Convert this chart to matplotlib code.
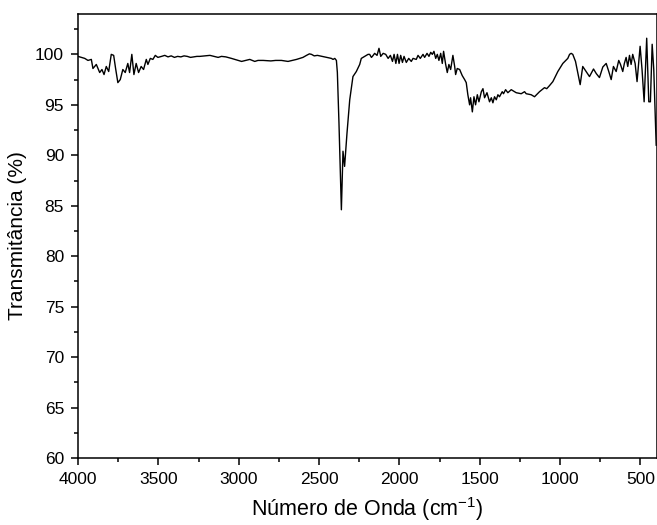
import numpy as np
import matplotlib
matplotlib.use("Agg")
import matplotlib.pyplot as plt
from matplotlib.ticker import MultipleLocator

plt.rcParams["font.family"] = ["Liberation Sans", "DejaVu Sans"]
plt.rcParams["mathtext.default"] = "regular"

# ── FTIR spectrum (wavenumber cm-1, transmittance %) ──
wavenumber = [
    4000, 3958, 3938, 3917, 3907, 3886, 3865, 3851, 3838, 3824, 3809, 3793,
    3778, 3766, 3752, 3737, 3721, 3706, 3690, 3679, 3665, 3652, 3638, 3623,
    3607, 3592, 3575, 3565, 3550, 3534, 3519, 3503, 3480, 3460, 3440, 3420,
    3400, 3380, 3360, 3340, 3320, 3300, 3280, 3260, 3242, 3179, 3128, 3107,
    3080, 3045, 2982, 2931, 2900, 2880, 2848, 2800, 2770, 2734, 2693, 2640,
    2600, 2578, 2560, 2547, 2530, 2510, 2496, 2454, 2423, 2413, 2402, 2392,
    2386, 2376, 2365, 2361, 2355, 2351, 2341, 2326, 2309, 2289, 2268, 2247,
    2237, 2216, 2195, 2185, 2174, 2168, 2154, 2139, 2127, 2116, 2101, 2085,
    2070, 2056, 2043, 2033, 2022, 2012, 2002, 1992, 1981, 1971, 1957, 1942,
    1926, 1915, 1895, 1884, 1870, 1853, 1843, 1828, 1816, 1805, 1795, 1785,
    1774, 1764, 1754, 1743, 1733, 1725, 1712, 1702, 1692, 1681, 1667, 1656,
    1650, 1640, 1625, 1609, 1594, 1584, 1574, 1563, 1557, 1546, 1536, 1526,
    1515, 1505, 1490, 1480, 1470, 1455, 1439, 1428, 1418, 1408, 1397, 1387,
    1377, 1360, 1352, 1339, 1325, 1304, 1273, 1242, 1221, 1211, 1180, 1159,
    1128, 1097, 1083, 1066, 1045, 1014, 983, 952, 941, 931, 921, 904,
    890, 875, 859, 838, 817, 792, 775, 755, 734, 713, 697, 682,
    668, 651, 635, 624, 610, 600, 589, 579, 568, 558, 548, 533,
    521, 502, 490, 477, 461, 448, 438, 427, 417, 402,
]
transmittance = [
    99.8, 99.6, 99.4, 99.5, 98.6, 99.0, 98.2, 98.5, 98.0, 98.8, 98.3, 100.0,
    99.9, 98.6, 97.2, 97.5, 98.5, 98.2, 99.1, 98.2, 100.0, 98.0, 99.1, 98.2,
    98.8, 98.5, 99.5, 99.0, 99.6, 99.5, 99.9, 99.7, 99.8, 99.9, 99.75, 99.85,
    99.7, 99.8, 99.75, 99.85, 99.8, 99.7, 99.75, 99.8, 99.8, 99.9, 99.7, 99.8,
    99.75, 99.6, 99.3, 99.5, 99.3, 99.4, 99.4, 99.35, 99.4, 99.4, 99.3, 99.5,
    99.7, 99.9, 100.05, 100.0, 99.85, 99.9, 99.85, 99.7, 99.6, 99.5, 99.6, 99.4,
    98.2, 93.2, 86.6, 84.6, 88.2, 90.4, 88.9, 92.2, 95.5, 97.8, 98.3, 99.0,
    99.6, 99.8, 100.0, 100.0, 99.7, 99.8, 100.1, 99.9, 100.6, 99.8, 100.1, 100.0,
    99.6, 99.9, 99.3, 100.0, 99.1, 100.0, 99.1, 99.9, 99.2, 99.8, 99.2, 99.6,
    99.3, 99.6, 99.5, 99.9, 99.6, 100.0, 99.7, 100.1, 99.8, 100.2, 100.0, 100.3,
    99.6, 100.0, 99.4, 100.1, 99.1, 100.3, 99.0, 98.2, 99.0, 98.5, 99.9, 98.8,
    98.0, 98.6, 98.5, 97.9, 97.5, 97.2, 96.0, 95.0, 95.7, 94.3, 95.8, 95.0,
    96.0, 95.3, 96.3, 96.6, 95.7, 96.2, 95.3, 95.7, 95.2, 95.8, 95.5, 96.0,
    95.8, 96.3, 96.1, 96.5, 96.2, 96.5, 96.2, 96.1, 96.3, 96.1, 96.0, 95.8,
    96.3, 96.7, 96.6, 96.9, 97.3, 98.3, 99.1, 99.6, 100.0, 100.1, 100.0, 99.3,
    98.2, 97.0, 98.8, 98.3, 97.8, 98.55, 98.1, 97.7, 98.75, 99.1, 98.3, 97.5,
    98.8, 98.3, 99.4, 99.0, 98.3, 99.1, 99.7, 98.8, 99.9, 99.0, 100.0, 99.1,
    97.3, 100.8, 98.5, 95.3, 101.6, 95.3, 95.3, 101.0, 98.5, 91.0,
]

fig = plt.figure(figsize=(6.57, 5.25), dpi=100)
ax = fig.add_axes([78 / 657, 1 - 458 / 525, 578.5 / 657, 444 / 525])

ax.plot(wavenumber, transmittance, color="black", lw=1.0)

ax.set_xlim(4000, 400)
ax.set_ylim(60, 104)
ax.xaxis.set_major_locator(MultipleLocator(500))
ax.xaxis.set_minor_locator(MultipleLocator(250))
ax.yaxis.set_major_locator(MultipleLocator(5))
ax.yaxis.set_minor_locator(MultipleLocator(2.5))
ax.tick_params(which="both", direction="out", top=False, right=False,
               width=1.1, labelsize=12.5)
ax.tick_params(which="major", length=5, pad=5)
ax.tick_params(which="minor", length=3)
for s in ax.spines.values():
    s.set_linewidth(1.1)

ax.set_xlabel("Número de Onda (cm$^{-1}$)", fontsize=15.5, labelpad=6)
ax.set_ylabel("Transmitância (%)", fontsize=15, labelpad=6)

plt.savefig("out.png", dpi=100)
